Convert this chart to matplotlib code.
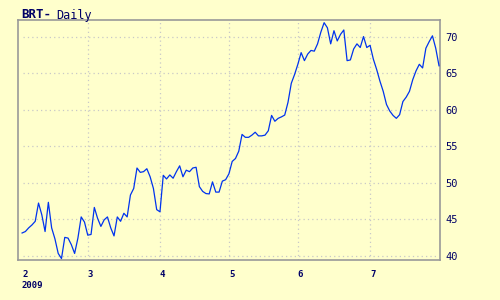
import numpy as np
import pandas as pd
import matplotlib
matplotlib.use("Agg")
import matplotlib.pyplot as plt

# trading days Feb 2 .. Jul 30 2009 (Good Friday closed)
days = pd.bdate_range("2009-02-02", "2009-07-30")
days = days[days != pd.Timestamp("2009-04-10")]

# daily close
feb = [43.1, 43.3, 43.8, 44.2, 44.7, 47.2, 45.6, 43.3, 47.3, 43.8,
       42.3, 40.3, 39.6, 42.5, 42.4, 41.5, 40.3, 42.4, 45.3, 44.6]
mar = [42.8, 42.9, 46.6, 45.1, 44.0, 44.9, 45.3, 43.8, 42.7, 45.3,
       44.7, 45.8, 45.3, 48.3, 49.2, 52.0, 51.4, 51.5, 51.9, 50.8,
       49.2, 46.3]
apr = [46.0, 51.0, 50.5, 51.05, 50.6, 51.5, 52.3, 50.8, 51.7, 51.5,
       52.0, 52.1, 49.45, 48.8, 48.5, 48.45, 50.1, 48.7, 48.7, 50.2,
       50.4]
may = [51.2, 52.9, 53.3, 54.3, 56.6, 56.2, 56.2, 56.5, 56.9, 56.4,
       56.4, 56.5, 57.1, 59.2, 58.4, 58.8, 59.0, 59.25, 61.0, 63.6,
       64.8]
jun = [66.2, 67.8, 66.7, 67.6, 68.1, 68.0, 69.0, 70.6, 71.9, 71.2,
       69.0, 70.8, 69.4, 70.3, 70.9, 66.7, 66.8, 68.3, 69.0, 68.5,
       70.0, 68.5]
jul = [68.8, 66.9, 65.5, 63.9, 62.5, 60.7, 59.8, 59.2, 58.8, 59.3,
       61.1, 61.7, 62.5, 64.1, 65.3, 66.2, 65.7, 68.4, 69.3, 70.1,
       68.4, 66.0]
close = feb + mar + apr + may + jun + jul

month_labels = ["2", "3", "4", "5", "6", "7"]
y_ticks = [40, 45, 50, 55, 60, 65, 70]

bg = "#ffffcc"
ink = "#000066"

x = np.arange(len(close))
# first trading day of each month
month_idx = [int(np.argmax(days.month == m)) for m in range(2, 8)]

fig = plt.figure(figsize=(5, 3), dpi=100, facecolor=bg)
ax = fig.add_axes([0.035, 0.1333, 0.845, 0.7984])
ax.set_facecolor(bg)

for v in y_ticks:
  ax.axhline(v, xmin=0.012, xmax=0.99, color="#c8c8c8", lw=0.9,
             ls=(0, (1, 2.5)), zorder=1)
for i in month_idx[1:]:
  ax.axvline(i, color="#c8c8c8", lw=0.9, ls=(0, (1, 2.5)), zorder=1)

ax.plot(x, close, color="#0033ee", lw=0.9, zorder=3)

ax.set_xlim(-1.4, 127.3)
ax.set_ylim(39.4, 72.2)

for s in ax.spines.values():
  s.set_color("#999999")
  s.set_linewidth(1.2)

ax.yaxis.tick_right()
ax.set_yticks(y_ticks)
ax.set_yticklabels([str(v) for v in y_ticks], fontsize=7.5, color=ink,
                   family="DejaVu Sans Mono")
ax.tick_params(axis="y", length=0, pad=4)

ax.set_xticks(month_idx)
ax.set_xticklabels(month_labels, fontsize=6.5, color=ink, fontweight="bold",
                   family="DejaVu Sans Mono", ha="left")
ax.tick_params(axis="x", length=0, pad=7)

fig.text(0.044, 0.048, "2009", fontsize=6.5, color=ink, fontweight="bold",
         family="DejaVu Sans Mono", va="center")
fig.text(0.043, 0.95, "BRT-", fontsize=9, color=ink, fontweight="bold",
         family="DejaVu Sans Mono", va="center")
fig.text(0.113, 0.95, "Daily", fontsize=8.5, color=ink,
         family="DejaVu Sans Mono", va="center")

fig.savefig("out.png", dpi=100, facecolor=bg)
